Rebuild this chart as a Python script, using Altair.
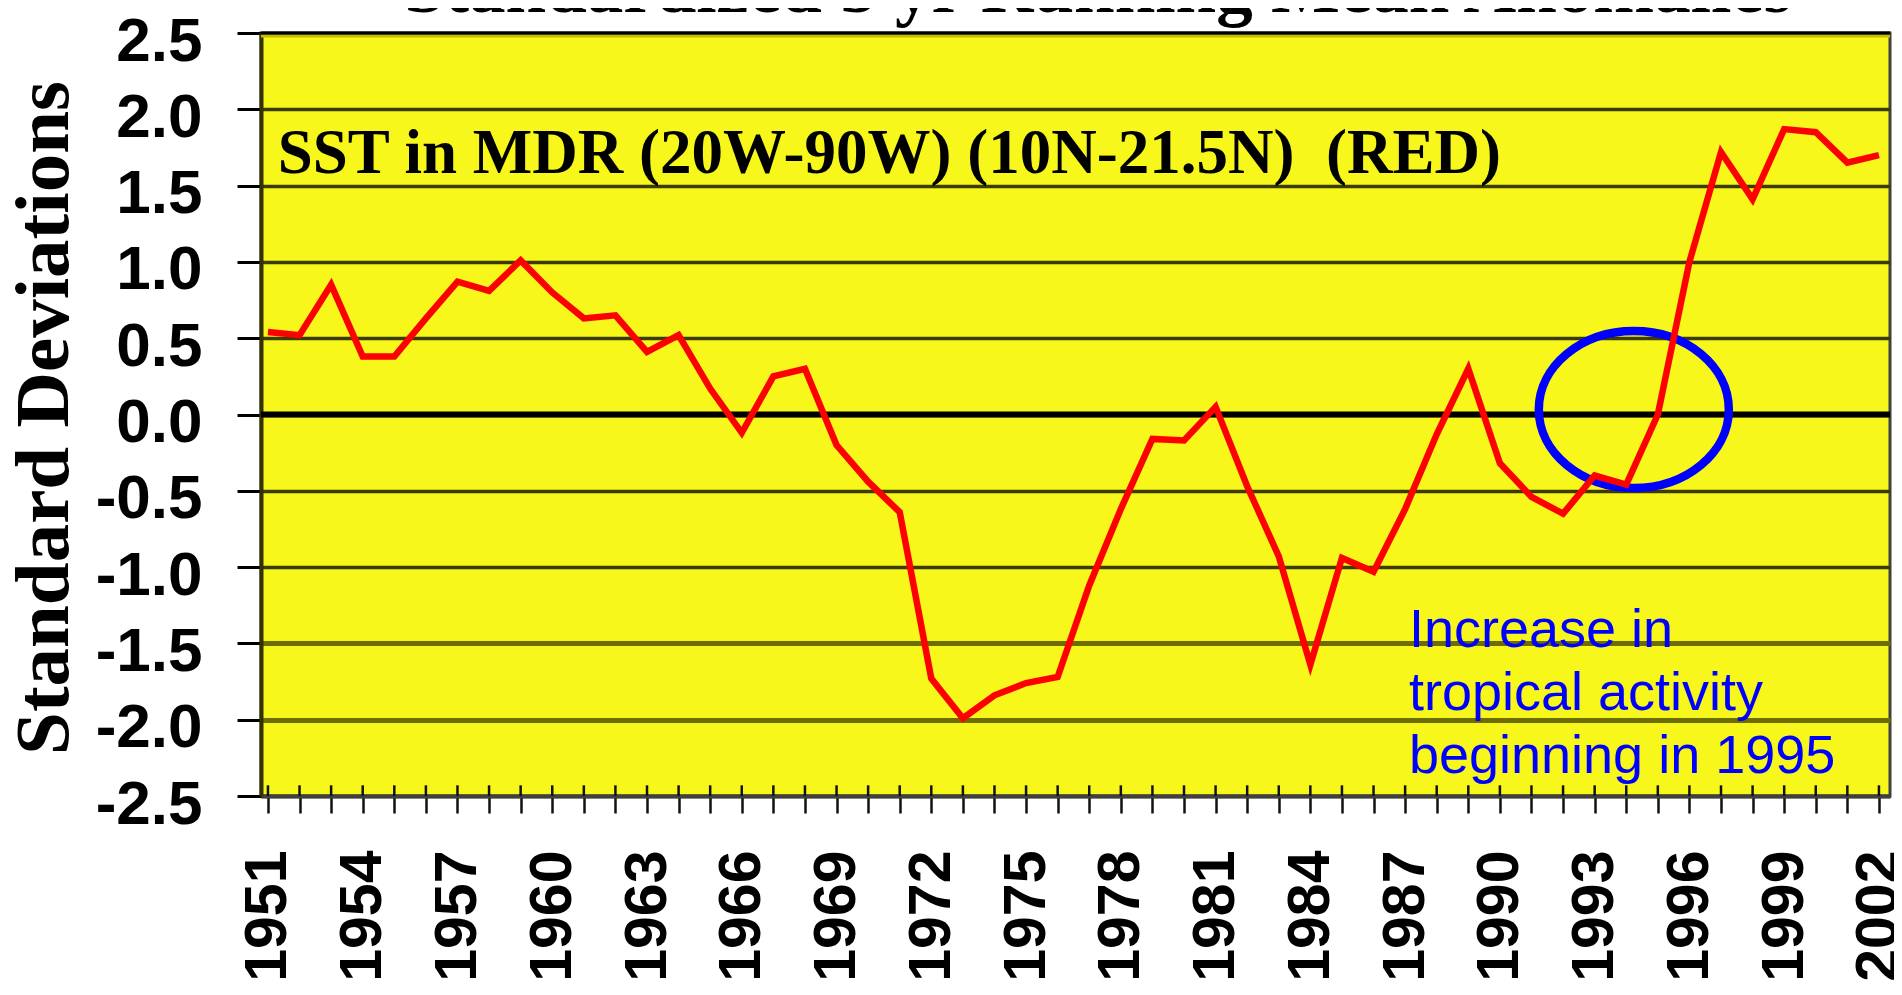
import altair as alt
import pandas as pd

# ---- data ----
years = [1951, 1952, 1953, 1954, 1955, 1956, 1957, 1958, 1959, 1960,
         1961, 1962, 1963, 1964, 1965, 1966, 1967, 1968, 1969, 1970,
         1971, 1972, 1973, 1974, 1975, 1976, 1977, 1978, 1979, 1980,
         1981, 1982, 1983, 1984, 1985, 1986, 1987, 1988, 1989, 1990,
         1991, 1992, 1993, 1994, 1995, 1996, 1997, 1998, 1999, 2000,
         2001, 2002]
sst_anomaly = [0.54, 0.52, 0.85, 0.38, 0.38, 0.63, 0.87, 0.81, 1.01, 0.80,
               0.63, 0.65, 0.41, 0.52, 0.17, -0.12, 0.25, 0.30, -0.20, -0.44,
               -0.64, -1.73, -1.99, -1.84, -1.76, -1.72, -1.12, -0.62, -0.16, -0.17,
               0.05, -0.47, -0.93, -1.64, -0.94, -1.03, -0.62, -0.13, 0.30, -0.32,
               -0.54, -0.65, -0.40, -0.46, 0.00, 1.00, 1.72, 1.41, 1.87, 1.85,
               1.65, 1.70]
y_ticks = [-2.5, -2.0, -1.5, -1.0, -0.5, 0.0, 0.5, 1.0, 1.5, 2.0, 2.5]
title_text = ["Standardized 5 yr Running Mean Anomalies"]
series_label = ["SST in MDR (20W-90W) (10N-21.5N)\u00a0 (RED)"]
note_lines = ["Increase in", "tropical activity", "beginning in 1995"]
y_title = "Standard Deviations"

df = pd.DataFrame({"year": years, "sd": sst_anomaly})

W, H = 1629, 763
xscale = alt.Scale(domain=[1950.78, 2002.35], nice=False, zero=False)
yscale = alt.Scale(domain=[-2.5, 2.5], nice=False, zero=False)

x_axis = alt.Axis(
    values=years,
    labelExpr="(datum.value - 1951) % 3 == 0 ? format(datum.value, 'd') : ''",
    labelAngle=270, labelAlign="right", labelBaseline="middle",
    labelFont="Liberation Sans", labelFontWeight="bold", labelFontSize=59,
    labelColor="black", labelPadding=37, labelOverlap=False, labelBound=False,
    labelFlush=False, tickSize=17, tickWidth=2.5, tickColor="#111111",
    domainColor="#404040", domainWidth=4, grid=False, title=None,
)
y_axis = alt.Axis(
    values=y_ticks,
    labelExpr="(datum.value < 0 ? '-' : '') + format(abs(datum.value), '.1f')",
    labelFont="Liberation Sans Narrow, Arial Narrow, Liberation Sans",
    labelFontWeight="bold", labelFontSize=62, labelColor="black",
    labelPadding=35, labelOffset=8, labelOverlap=False, labelBound=False,
    labelFlush=False,
    tickSize=24, tickWidth=3, tickColor="black",
    domainColor="#333300", domainWidth=4,
    grid=True,
    gridColor={"condition": {"test": "datum.value <= -1.5 && datum.value > -2.4",
                             "value": "#6e6e00"}, "value": "#3c3c00"},
    gridWidth={"condition": {"test": "datum.value <= -1.5 && datum.value > -2.4",
                             "value": 5}, "value": 3.5},
    title=y_title, titleFont="Liberation Serif", titleFontWeight="bold",
    titleFontSize=77, titleColor="black", titleAngle=270,
    titleX=-194, titleY=H / 2 + 3, titleAlign="center", titleBaseline="alphabetic",
)


def X(**kw):
    return alt.X(scale=xscale, axis=x_axis, **kw)


def Y(**kw):
    return alt.Y(scale=yscale, axis=y_axis, **kw)


line = alt.Chart(df).mark_line(color="#ff0000", strokeWidth=6.5).encode(
    x=X(field="year", type="quantitative"), y=Y(field="sd", type="quantitative")
)

one = pd.DataFrame({"k": [0]})

zero_rule = alt.Chart(one).mark_rule(color="black", strokeWidth=6).encode(
    y=Y(datum=0)
)
top_rule = alt.Chart(one).mark_rule(color="black", strokeWidth=3).encode(
    y=Y(datum=2.5)
)
top_stripe = alt.Chart(one).mark_rule(color="#c4bd00", strokeWidth=3).encode(
    y=Y(datum=2.48)
)

inner_ticks = alt.Chart(df).mark_rule(color="#111111", strokeWidth=2.5).encode(
    x=X(field="year", type="quantitative"), y=Y(datum=-2.5), y2=alt.Y2(datum=-2.43)
)

title_df = pd.DataFrame({"label": title_text})
title = alt.Chart(title_df).mark_text(
    font="Liberation Serif", fontWeight="bold", fontSize=73, color="black",
    align="center", baseline="alphabetic",
).encode(x=X(datum=1977.28), y=Y(datum=2.638), text="label:N")

series_df = pd.DataFrame({"label": series_label})
series_text = alt.Chart(series_df).mark_text(
    font="Liberation Serif", fontWeight="bold", fontSize=63, color="black",
    align="left", baseline="alphabetic",
).encode(x=X(datum=1951.31), y=Y(datum=1.583), text="label:N")

note_df = pd.DataFrame({"label": ["\n".join(note_lines)]})
note_text = alt.Chart(note_df).mark_text(
    font="Liberation Sans", fontSize=54, color="#0000ff", align="left",
    baseline="alphabetic", lineBreak="\n", lineHeight=63,
).encode(x=X(datum=1987.12), y=Y(datum=-1.524), text="label:N")

ellipse_shape = ("M 1 0 C 1 0.456 0.552 0.826 0 0.826 "
                 "C -0.552 0.826 -1 0.456 -1 0 "
                 "C -1 -0.456 -0.552 -0.826 0 -0.826 "
                 "C 0.552 -0.826 1 -0.456 1 0 Z")
ellipse = alt.Chart(one).mark_point(
    shape=ellipse_shape, size=36100, filled=False, color="#0000ff",
    strokeWidth=8.5, opacity=1,
).encode(x=X(datum=1994.24), y=Y(datum=0.033))

chart = alt.layer(
    top_stripe, zero_rule, inner_ticks, series_text, note_text, title,
    ellipse, line, top_rule,
).properties(
    width=W, height=H,
    padding={"left": 253, "top": 25, "right": 4, "bottom": 190},
    autosize=alt.AutoSizeParams(type="none"),
).configure_view(
    fill="#f7f71b", stroke="#404040", strokeWidth=3
)

chart.save("out.html", embed_options={"renderer": "svg", "actions": False})
